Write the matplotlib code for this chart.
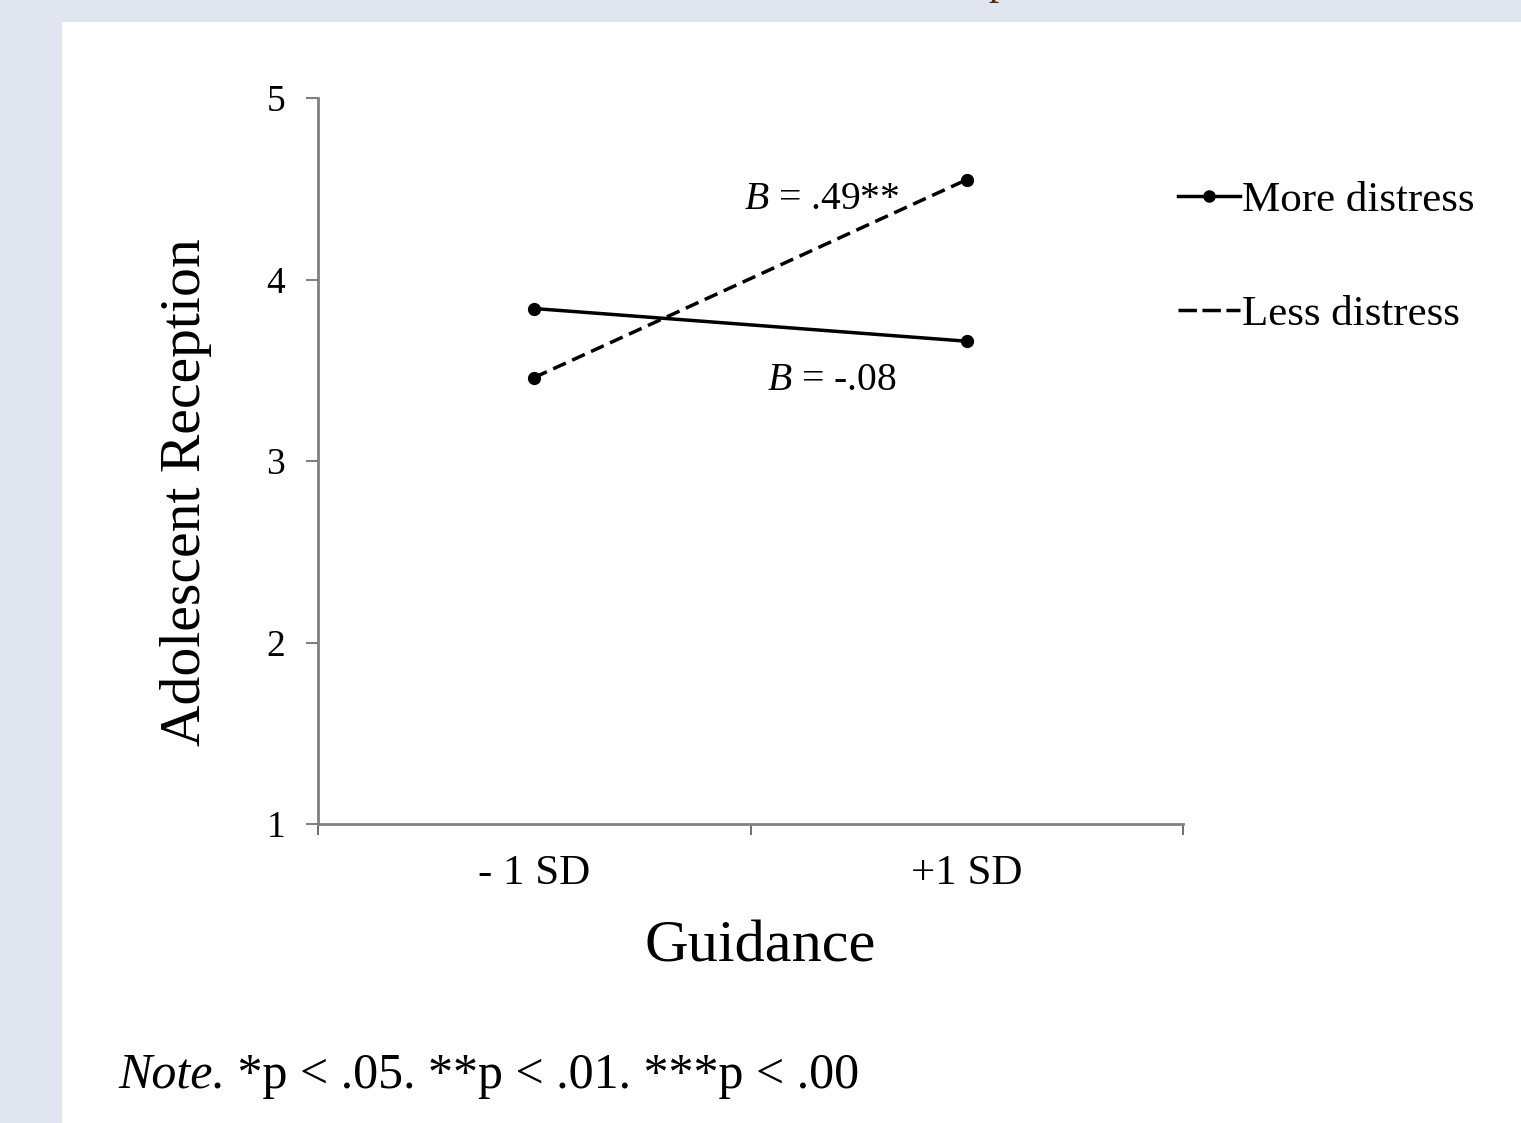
import matplotlib.pyplot as plt
from matplotlib.lines import Line2D
from matplotlib.patches import Rectangle

# data
categories = ["- 1 SD", "+1 SD"]
more_distress = [3.84, 3.66]
less_distress = [3.46, 4.55]
series_labels = ["More distress", "Less distress"]
slope_labels = ["$\\mathit{B}$ = -.08", "$\\mathit{B}$ = .49**"]
y_ticks = [1, 2, 3, 4, 5]

plt.rcParams["font.family"] = ["Liberation Serif", "DejaVu Serif"]
plt.rcParams["mathtext.fontset"] = "custom"
plt.rcParams["mathtext.it"] = "Liberation Serif:italic"
plt.rcParams["mathtext.rm"] = "Liberation Serif"

fig = plt.figure(figsize=(15.21, 11.23), dpi=100)
fig.patch.set_facecolor("#e1e5f0")

# white page area
page = Rectangle((62 / 1521, 0), 1 - 62 / 1521, 1 - 22 / 1123,
                 transform=fig.transFigure, facecolor="white",
                 edgecolor="none", zorder=-1)
fig.patches.append(page)

# bit of the cut-off title at the top edge
fig.text(999 / 1521, 1 + 6 / 1123, "p", color="#5a2a06", fontsize=30,
         ha="center", va="baseline")

ax = fig.add_axes([318 / 1521, 1 - 824 / 1123, 865 / 1521, 726 / 1123])
ax.set_facecolor("none")

x_pos = [0.5, 1.5]
ax.plot(x_pos, more_distress, color="black", lw=2.5, marker="o", ms=8.5,
        solid_capstyle="butt")
ax.plot(x_pos, less_distress, color="black", lw=2.5, marker="o", ms=8.5,
        linestyle=(0, (4, 2)))

ax.set_xlim(0, 2)
ax.set_ylim(1, 5)
ax.set_yticks(y_ticks)
ax.set_xticks([0, 1, 2])
ax.set_xticklabels([])
ax.set_xticks(x_pos, minor=True)
ax.set_xticklabels(categories, minor=True)
ax.tick_params(axis="x", which="minor", length=0, labelsize=31, pad=22)
ax.tick_params(axis="x", which="major", length=8, width=1.2, color="#555555",
               direction="out")
ax.tick_params(axis="y", length=8.5, width=1.5, color="#808080", labelsize=27,
               pad=15)

for side in ["top", "right"]:
    ax.spines[side].set_visible(False)
for side in ["left", "bottom"]:
    ax.spines[side].set_color("#808080")
    ax.spines[side].set_linewidth(2)

ax.set_ylabel("Adolescent Reception", fontsize=41.5)
ax.yaxis.set_label_coords(-0.1225, 0.457)
ax.set_xlabel("Guidance", fontsize=43.5)
ax.xaxis.set_label_coords(0.511, -0.133)

ax.text(1.188, 3.446, slope_labels[0], fontsize=28.5, ha="center",
        va="center")
ax.text(1.165, 4.443, slope_labels[1], fontsize=28.5, ha="center",
        va="center")

handles = [
    Line2D([], [], color="black", lw=2.5, marker="o", ms=8, markevery=[1]),
    Line2D([], [], color="black", lw=2.5, linestyle=(0, (5.3, 1.6))),
]
for h in handles:
    h.set_xdata([0, 0.5, 1])
fig.legend(handles, series_labels, loc="upper left",
           bbox_to_anchor=(1156 / 1521, 1 - 159 / 1123), frameon=False,
           fontsize=31, handlelength=1.44, handletextpad=0.05,
           labelspacing=1.75, borderpad=0)

note = fig.text(118 / 1521, 1 - 1088 / 1123, "Note.", style="italic",
                fontsize=36, ha="left", va="baseline")
ax.annotate(" *p < .05. **p < .01. ***p < .00", xy=(1, 0), xycoords=note,
            fontsize=36, ha="left", va="bottom", annotation_clip=False)

fig.savefig("out.png", dpi=100, facecolor=fig.get_facecolor())
